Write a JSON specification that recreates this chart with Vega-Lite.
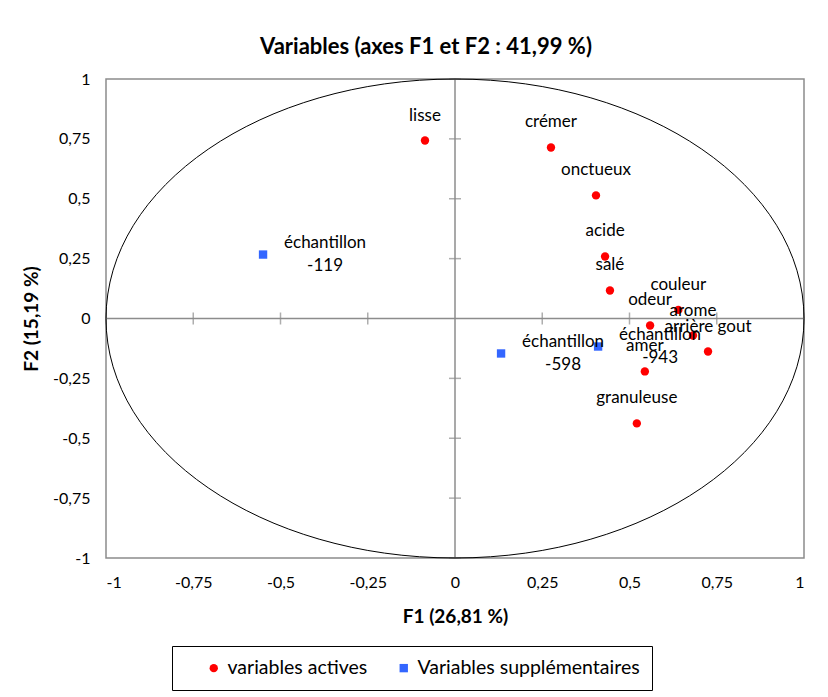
{
  "$schema": "https://vega.github.io/schema/vega-lite/v6.json",
  "width": 698,
  "height": 479,
  "padding": {"left": 22, "top": 36, "right": 20, "bottom": 10},
  "background": "white",
  "title": {"text": "Variables (axes F1 et F2 : 41,99 %)", "fontSize": 22, "fontWeight": "bold", "font": "Lato", "color": "black", "offset": 12, "dx": -29},
  "config": {
    "font": "Lato",
    "view": {"stroke": "#8c8c8c", "strokeWidth": 1.5},
    "axis": {"grid": false, "domain": false, "ticks": false, "labelFont": "Lato", "labelFontSize": 16, "labelColor": "black", "titleFont": "Lato", "titleFontSize": 19, "titleFontWeight": "bold", "titleColor": "black", "labelPadding": 16}
  },
  "datasets": {
    "pts": [
      {"name": "lisse", "F1": -0.086, "F2": 0.743, "type": "variables actives"},
      {"name": "crémer", "F1": 0.275, "F2": 0.714, "type": "variables actives"},
      {"name": "onctueux", "F1": 0.404, "F2": 0.514, "type": "variables actives"},
      {"name": "acide", "F1": 0.430, "F2": 0.259, "type": "variables actives"},
      {"name": "salé", "F1": 0.444, "F2": 0.117, "type": "variables actives"},
      {"name": "couleur", "F1": 0.640, "F2": 0.036, "type": "variables actives"},
      {"name": "odeur", "F1": 0.559, "F2": -0.029, "type": "variables actives"},
      {"name": "arome", "F1": 0.682, "F2": -0.071, "type": "variables actives"},
      {"name": "arrière gout", "F1": 0.725, "F2": -0.138, "type": "variables actives"},
      {"name": "amer", "F1": 0.544, "F2": -0.221, "type": "variables actives"},
      {"name": "granuleuse", "F1": 0.521, "F2": -0.438, "type": "variables actives"},
      {"name": "échantillon\n-119", "F1": -0.550, "F2": 0.267, "type": "Variables supplémentaires"},
      {"name": "échantillon\n-598", "F1": 0.132, "F2": -0.146, "type": "Variables supplémentaires"},
      {"name": "échantillon\n-943", "F1": 0.410, "F2": -0.117, "type": "Variables supplémentaires"}
    ],
    "ticks": [
      {"v": -1}, {"v": -0.75}, {"v": -0.5}, {"v": -0.25}, {"v": 0.25}, {"v": 0.5}, {"v": 0.75}, {"v": 1}
    ],
    "origin": [{"o": 0}]
  },
  "layer": [
    {
      "data": {"name": "pts"},
      "mark": {"type": "point", "opacity": 0},
      "encoding": {
        "x": {"field": "F1", "type": "quantitative", "scale": {"domain": [-1, 1], "nice": false, "zero": false},
          "axis": {"values": [-1, -0.75, -0.5, -0.25, 0, 0.25, 0.5, 0.75, 1], "labelExpr": "replace(toString(datum.value), '.', ',')", "title": "F1 (26,81 %)", "titlePadding": 17}},
        "y": {"field": "F2", "type": "quantitative", "scale": {"domain": [-1, 1], "nice": false, "zero": false},
          "axis": {"values": [-1, -0.75, -0.5, -0.25, 0, 0.25, 0.5, 0.75, 1], "labelExpr": "replace(toString(datum.value), '.', ',')", "title": "F2 (15,19 %)", "titlePadding": 11}}
      }
    },
    {
      "data": {"name": "origin"},
      "mark": {"type": "rule", "color": "#8c8c8c", "strokeWidth": 1.5},
      "encoding": {"x": {"field": "o", "type": "quantitative"}}
    },
    {
      "data": {"name": "origin"},
      "mark": {"type": "rule", "color": "#8c8c8c", "strokeWidth": 1.5},
      "encoding": {"y": {"field": "o", "type": "quantitative"}}
    },
    {
      "data": {"name": "ticks"},
      "mark": {"type": "tick", "orient": "vertical", "color": "#8c8c8c", "size": 12, "thickness": 1.5},
      "encoding": {"x": {"field": "v", "type": "quantitative"}, "y": {"datum": 0, "type": "quantitative"}}
    },
    {
      "data": {"name": "ticks"},
      "mark": {"type": "tick", "orient": "horizontal", "color": "#8c8c8c", "size": 12, "thickness": 1.5},
      "encoding": {"y": {"field": "v", "type": "quantitative"}, "x": {"datum": 0, "type": "quantitative"}}
    },
    {
      "data": {"name": "origin"},
      "mark": {"type": "point", "shape": "M -1 0 A 1 0.6862 0 1 1 1 0 A 1 0.6862 0 1 1 -1 0 Z", "size": 487204, "filled": false, "stroke": "black", "strokeWidth": 1, "opacity": 1},
      "encoding": {"x": {"field": "o", "type": "quantitative"}, "y": {"field": "o", "type": "quantitative"}}
    },
    {
      "data": {"name": "pts"},
      "mark": {"type": "point", "filled": true, "opacity": 1, "size": 70},
      "encoding": {
        "x": {"field": "F1", "type": "quantitative"},
        "y": {"field": "F2", "type": "quantitative"},
        "color": {"field": "type", "type": "nominal", "scale": {"domain": ["variables actives", "Variables supplémentaires"], "range": ["#FF0000", "#3366FF"]},
          "legend": {"orient": "none", "legendX": 66, "legendY": 567, "direction": "horizontal", "title": null, "strokeColor": "black", "padding": 12, "labelFontSize": 19.5, "labelFont": "Lato", "labelColor": "black", "labelLimit": 400, "symbolSize": 70, "columnPadding": 6, "symbolOffset": 20}},
        "shape": {"field": "type", "type": "nominal", "scale": {"domain": ["variables actives", "Variables supplémentaires"], "range": ["circle", "square"]}}
      }
    },
    {
      "data": {"name": "pts"},
      "transform": [{"filter": "datum.type === 'variables actives'"}],
      "mark": {"type": "text", "dy": -25, "fontSize": 17, "font": "Lato", "color": "black"},
      "encoding": {
        "x": {"field": "F1", "type": "quantitative"},
        "y": {"field": "F2", "type": "quantitative"},
        "text": {"field": "name"}
      }
    },
    {
      "data": {"name": "pts"},
      "transform": [{"filter": "datum.type !== 'variables actives'"}],
      "mark": {"type": "text", "dx": 62, "dy": -11.5, "fontSize": 17, "font": "Lato", "color": "black", "lineBreak": "\n", "lineHeight": 23},
      "encoding": {
        "x": {"field": "F1", "type": "quantitative"},
        "y": {"field": "F2", "type": "quantitative"},
        "text": {"field": "name"}
      }
    }
  ]
}
